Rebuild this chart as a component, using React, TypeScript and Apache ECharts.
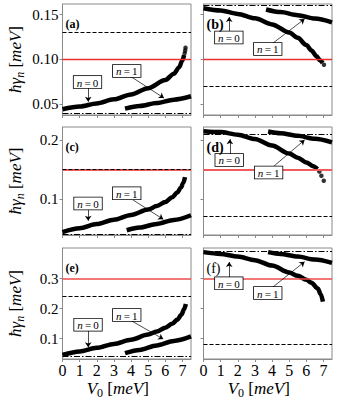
import React, { useEffect, useRef } from 'react';
import * as echarts from 'echarts';

const FONT = 'Liberation Serif';

// axes
const X_TICKS = [0, 1, 2, 3, 4, 5, 6, 7];
const X_RANGE = [0, 7.5];
const Y_TICKS_ROW = [[0.05, 0.1, 0.15], [0.1, 0.2], [0.1, 0.2, 0.3]];
const Y_DECIMALS_ROW = [2, 1, 1];
const Y_RANGE_ROW = [[0.0381, 0.1617], [0.039, 0.222], [0.0317, 0.4017]];
const PANEL_LETTERS = ['(a)', '(b)', '(c)', '(d)', '(e)', '(f)'];

// reference lines per panel a..f
const RED = [0.1, 0.1, 0.152, 0.152, 0.3, 0.3];
const DASHED = [0.128, 0.0734, 0.155, 0.0729, 0.236, 0.076];
const DASHDOT = [0.0437, 0.1569, 0.0441, 0.2149, 0.045, 0.388];

// (a)
const A_N0_X = [0, 1, 2, 3, 4, 5, 6, 6.5, 6.8, 7.0, 7.1];
const A_N0_Y = [0.0445, 0.0475, 0.051, 0.0555, 0.061, 0.068, 0.077, 0.084, 0.091, 0.099, 0.105];
const A_TAIL_X = [7.13, 7.16, 7.18];
const A_TAIL_Y = [0.107, 0.110, 0.113];
const A_N1_X = [3.65, 4.5, 5.5, 6.5, 7.5];
const A_N1_Y = [0.0452, 0.0481, 0.0515, 0.0552, 0.059];
// (b)
const B_N0_X = [0, 1, 2, 3, 4, 5, 5.5, 6, 6.3, 6.6, 6.8, 6.95];
const B_N0_Y = [0.157, 0.1545, 0.1507, 0.1458, 0.139, 0.13, 0.124, 0.116, 0.11, 0.1035, 0.099, 0.096];
const B_TAIL_X = [7.03];
const B_TAIL_Y = [0.094];
const B_N1_X = [3.65, 4.5, 5.5, 6.5, 7.5];
const B_N1_Y = [0.1556, 0.1527, 0.1493, 0.1455, 0.1413];
// (c)
const C_N0_X = [0, 1, 2, 3, 4, 5, 5.5, 6, 6.4, 6.7, 6.9, 7.05, 7.15];
const C_N0_Y = [0.044, 0.0505, 0.0575, 0.065, 0.073, 0.082, 0.088, 0.095, 0.103, 0.111, 0.119, 0.127, 0.137];
const C_TAIL_X: number[] = [];
const C_TAIL_Y: number[] = [];
const C_N1_X = [3.75, 4.5, 5.5, 6.5, 7.5];
const C_N1_Y = [0.047, 0.0515, 0.0578, 0.0645, 0.0725];
// (d)
const D_N0_X = [0, 1, 2, 3, 4, 5, 5.5, 6, 6.4, 6.65];
const D_N0_Y = [0.215, 0.2135, 0.209, 0.2015, 0.1905, 0.177, 0.17, 0.162, 0.1555, 0.1505];
const D_TAIL_X = [6.76, 6.88, 7.02];
const D_TAIL_Y = [0.1465, 0.1395, 0.131];
const D_N1_X = [3.77, 4.5, 5.5, 6.5, 7.5];
const D_N1_Y = [0.2145, 0.2115, 0.207, 0.202, 0.196];
// (e)
const E_N0_X = [0, 1, 2, 3, 4, 5, 5.5, 6, 6.4, 6.7, 6.95, 7.1, 7.2];
const E_N0_Y = [0.045, 0.057, 0.069, 0.082, 0.096, 0.113, 0.123, 0.136, 0.149, 0.163, 0.18, 0.198, 0.215];
const E_TAIL_X: number[] = [];
const E_TAIL_Y: number[] = [];
const E_N1_X = [3.65, 4.5, 5.5, 6.5, 7.5];
const E_N1_Y = [0.051, 0.062, 0.077, 0.092, 0.107];
// (f)
const F_N0_X = [0, 1, 2, 3, 4, 5, 5.5, 6, 6.3, 6.67, 6.85, 6.97];
const F_N0_Y = [0.388, 0.382, 0.373, 0.361, 0.343, 0.32, 0.309, 0.296, 0.286, 0.267, 0.247, 0.223];
const F_TAIL_X: number[] = [];
const F_TAIL_Y: number[] = [];
const F_N1_X = [3.77, 4.5, 5.5, 6.5, 7.5];
const F_N1_Y = [0.388, 0.382, 0.373, 0.363, 0.352];

// annotation anchors (data coordinates)
const LABEL_N0 = [[1.46, 0.0748], [1.48, 0.1244], [1.49, 0.0924], [1.5, 0.1661], [1.49, 0.146], [1.48, 0.284]];
const LABEL_N1 = [[3.75, 0.0871], [3.75, 0.1116], [3.75, 0.1097], [3.8, 0.1449], [3.75, 0.1783], [3.75, 0.2517]];
const ARROW_N0 = [
  [[1.5, 0.0682], [1.5, 0.0529]],
  [[1.5, 0.1305], [1.5, 0.1472]],
  [[1.5, 0.0847], [1.5, 0.0632]],
  [[1.54, 0.1729], [1.54, 0.2012]],
  [[1.5, 0.1283], [1.5, 0.0707]],
  [[1.5, 0.3017], [1.5, 0.355]],
];
const ARROW_N1 = [
  [[3.94, 0.0815], [5.92, 0.057]],
  [[3.98, 0.1171], [5.9, 0.145]],
  [[3.94, 0.1017], [5.88, 0.0656]],
  [[3.98, 0.1525], [5.9, 0.2]],
  [[3.94, 0.1617], [5.88, 0.0983]],
  [[3.98, 0.2683], [5.9, 0.356]],
];

const N0_X = [A_N0_X, B_N0_X, C_N0_X, D_N0_X, E_N0_X, F_N0_X];
const N0_Y = [A_N0_Y, B_N0_Y, C_N0_Y, D_N0_Y, E_N0_Y, F_N0_Y];
const N1_X = [A_N1_X, B_N1_X, C_N1_X, D_N1_X, E_N1_X, F_N1_X];
const N1_Y = [A_N1_Y, B_N1_Y, C_N1_Y, D_N1_Y, E_N1_Y, F_N1_Y];
const TAIL_X = [A_TAIL_X, B_TAIL_X, C_TAIL_X, D_TAIL_X, E_TAIL_X, F_TAIL_X];
const TAIL_Y = [A_TAIL_Y, B_TAIL_Y, C_TAIL_Y, D_TAIL_Y, E_TAIL_Y, F_TAIL_Y];

const zip = (xs: number[], ys: number[]) => xs.map((x, k) => [x, ys[k]]);

// layout
const GRID_LEFT = [62.5, 203.5];
const GRID_W = 128.5;
const GRID_TOP = [4, 127, 248];
const GRID_H = [111, 108, 111];
const FRAME = '#8a8a8a';
const RED_COLOR_ROW = ['#ec3030', '#f05c5c', '#ee4a4a'];
const RED_WIDTH_ROW = [1.3, 2, 1.6];

function buildOption() {
  const grid: any[] = [];
  const xAxis: any[] = [];
  const yAxis: any[] = [];
  const series: any[] = [];
  const graphic: any[] = [];
  const richLabel = {
    i: { fontFamily: FONT, fontStyle: 'italic', fontSize: 11, color: '#000', lineHeight: 11 },
    r: { fontFamily: FONT, fontSize: 11, color: '#000', lineHeight: 11 },
  };
  for (let i = 0; i < 6; i++) {
    const row = Math.floor(i / 2);
    const col = i % 2;
    grid.push({
      left: GRID_LEFT[col], top: GRID_TOP[row], width: GRID_W, height: GRID_H[row],
      show: true, borderColor: FRAME, borderWidth: 1, backgroundColor: 'transparent', containLabel: false,
    });
    xAxis.push({
      gridIndex: i, type: 'value', min: X_RANGE[0], max: X_RANGE[1],
      axisLine: { show: true, lineStyle: { color: FRAME, width: 1 } },
      axisTick: { show: true, length: 3, customValues: X_TICKS, lineStyle: { color: FRAME } },
      axisLabel: {
        show: row === 2, customValues: X_TICKS, fontFamily: FONT, fontSize: 16, color: '#000', margin: 3,
        formatter: (v: number) => String(v),
      },
      splitLine: { show: false },
    });
    yAxis.push({
      gridIndex: i, type: 'value', min: Y_RANGE_ROW[row][0], max: Y_RANGE_ROW[row][1],
      axisLine: { show: true, lineStyle: { color: FRAME, width: 1 } },
      axisTick: { show: true, length: 3, customValues: Y_TICKS_ROW[row], lineStyle: { color: FRAME } },
      axisLabel: {
        show: col === 0, customValues: Y_TICKS_ROW[row], fontFamily: FONT, fontSize: 15, color: '#000', margin: 4,
        formatter: (v: number) => v.toFixed(Y_DECIMALS_ROW[row]),
      },
      splitLine: { show: false },
    });
    series.push({
      type: 'line', xAxisIndex: i, yAxisIndex: i, data: zip(N0_X[i], N0_Y[i]), symbol: 'none',
      smooth: 0.3, smoothMonotone: 'x', lineStyle: { color: '#000', width: 4.5 }, z: 3, silent: true,
      markLine: {
        silent: true, symbol: 'none', label: { show: false },
        data: [
          { yAxis: RED[i], lineStyle: { color: RED_COLOR_ROW[row], width: RED_WIDTH_ROW[row], type: 'solid', opacity: 1 } },
          { yAxis: DASHED[i], lineStyle: { color: '#000', width: 1, type: [4, 2] } },
          { yAxis: DASHDOT[i], lineStyle: { color: '#000', width: 1, type: [6, 2, 1.5, 2] } },
        ],
      },
    });
    series.push({
      type: 'line', xAxisIndex: i, yAxisIndex: i, data: zip(N1_X[i], N1_Y[i]), symbol: 'none',
      smooth: 0.3, smoothMonotone: 'x', lineStyle: { color: '#000', width: 4.5 }, z: 3, silent: true,
      markLine: {
        silent: true, symbol: ['none', 'arrow'], symbolSize: 5, label: { show: false },
        lineStyle: { color: '#000', width: 0.7, type: 'solid' },
        data: [
          [{ coord: ARROW_N0[i][0] }, { coord: ARROW_N0[i][1] }],
          [{ coord: ARROW_N1[i][0] }, { coord: ARROW_N1[i][1] }],
        ],
      },
    });
    if (TAIL_X[i].length) {
      series.push({
        type: 'scatter', xAxisIndex: i, yAxisIndex: i, data: zip(TAIL_X[i], TAIL_Y[i]),
        symbolSize: 4.5, itemStyle: { color: '#000' }, z: 3, silent: true,
      });
    }
    series.push({
      type: 'scatter', xAxisIndex: i, yAxisIndex: i, symbolSize: 1, silent: true, z: 10,
      itemStyle: { color: 'rgba(0,0,0,0)' },
      data: [
        { value: LABEL_N0[i], label: { formatter: '{i|n}{r|\u2009=\u20090}' } },
        { value: LABEL_N1[i], label: { formatter: '{i|n}{r|\u2009=\u20091}' } },
      ],
      label: {
        show: true, position: 'inside', color: '#000', textBorderWidth: 0, opacity: 1,
        backgroundColor: '#ffffff', borderColor: '#000', borderWidth: 0.8,
        padding: [1, 3, 0, 3], rich: richLabel,
      },
    });
    const bold = i !== 5;
    graphic.push({
      type: 'text', x: GRID_LEFT[col] + 3, y: GRID_TOP[row] + 20, z: 20,
      style: {
        text: PANEL_LETTERS[i], fill: '#000',
        fontFamily: FONT, fontSize: col === 0 ? 12 : 14, fontWeight: bold ? 'bold' : 'normal',
        textAlign: 'left', textVerticalAlign: 'middle',
      },
    });
  }
  const titleRich = {
    i: { fontFamily: FONT, fontStyle: 'italic', fontSize: 17, lineHeight: 22, color: '#000' },
    r: { fontFamily: FONT, fontSize: 17, lineHeight: 22, color: '#000' },
    s: { fontFamily: FONT, fontStyle: 'italic', fontSize: 12, lineHeight: 12, verticalAlign: 'bottom', color: '#000' },
    s0: { fontFamily: FONT, fontSize: 12, lineHeight: 12, verticalAlign: 'bottom', color: '#000' },
  };
  for (let row = 0; row < 3; row++) {
    graphic.push({
      type: 'text', x: 15, y: GRID_TOP[row] + GRID_H[row] / 2, rotation: Math.PI / 2,
      style: {
        text: '{i|ħγ}{s|n}{r| [}{i|meV}{r|]}', rich: titleRich, fontFamily: FONT,
        textAlign: 'center', textVerticalAlign: 'middle',
      },
    });
  }
  for (let col = 0; col < 2; col++) {
    graphic.push({
      type: 'text', x: GRID_LEFT[col] + GRID_W / 2 - 9, y: 388,
      style: {
        text: '{i|V}{s0|0}{r| [}{i|meV}{r|]}', rich: titleRich, fontFamily: FONT,
        textAlign: 'center', textVerticalAlign: 'middle',
      },
    });
  }
  return { animation: false, textStyle: { fontFamily: FONT }, grid, xAxis, yAxis, series, graphic };
}

export default function App() {
  const ref = useRef<HTMLDivElement>(null);
  useEffect(() => {
    if (!ref.current) return;
    const chart = echarts.init(ref.current, undefined, { renderer: 'svg' });
    chart.setOption(buildOption() as any);
    return () => chart.dispose();
  }, []);
  return (
    <div
      ref={ref}
      style={{ position: 'absolute', left: 0, top: 0, width: 350, height: 400, background: '#fff' }}
    />
  );
}
